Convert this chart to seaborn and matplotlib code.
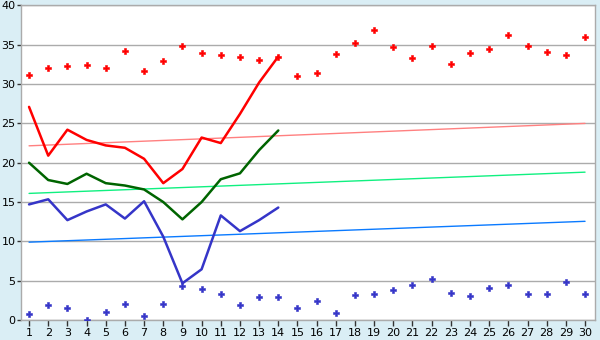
import numpy as np
import pandas as pd
import matplotlib
matplotlib.use("Agg")
import matplotlib.pyplot as plt
import seaborn as sns

days = list(range(1, 31))
line_days = list(range(1, 15))

max_points = [31.1, 32.0, 32.3, 32.4, 32.0, 34.2, 31.6, 32.9, 34.8, 33.9,
              33.7, 33.5, 33.0, 33.5, 31.0, 31.4, 33.8, 35.2, 36.9, 34.7,
              33.3, 34.8, 32.5, 33.9, 34.4, 36.3, 34.8, 34.1, 33.7, 36.0]
min_points = [0.72, 1.87, 1.49, 0.0, 0.98, 2.0, 0.47, 2.0, 4.28, 3.9,
              3.27, 1.87, 2.89, 2.89, 1.49, 2.38, 0.85, 3.14, 3.27, 3.78,
              4.41, 5.18, 3.4, 3.01, 4.03, 4.41, 3.27, 3.27, 4.8, 3.27]
red_line = [27.1, 20.9, 24.2, 22.9, 22.2, 21.9, 20.5, 17.4, 19.2, 23.2,
            22.5, 26.2, 30.2, 33.5]
green_line = [20.0, 17.8, 17.3, 18.6, 17.4, 17.1, 16.6, 15.0, 12.8, 15.0,
              17.9, 18.65, 21.6, 24.1]
blue_line = [14.7, 15.35, 12.7, 13.8, 14.7, 12.9, 15.1, 10.6, 4.67, 6.45,
             13.3, 11.3, 12.7, 14.3]
red_trend = [22.15, 25.0]
green_trend = [16.1, 18.8]
blue_trend = [9.9, 12.55]
trend_days = [1, 30]
y_ticks = [0, 5, 10, 15, 20, 25, 30, 35, 40]

sns.set_style("white")
plt.rcParams['font.family'] = ['DejaVu Sans']

fig = plt.figure(figsize=(6.0, 3.4), dpi=100)
fig.patch.set_facecolor('#DAEEF5')
ax = fig.add_axes([0.035, 0.0588, 0.9567, 0.9252])
ax.set_facecolor('white')

RED = '#FF0000'
GREEN = '#006400'
BLUE = '#3535C8'

# trend lines
sns.lineplot(x=trend_days, y=red_trend, ax=ax, color='#FF8080', linewidth=1.0)
sns.lineplot(x=trend_days, y=green_trend, ax=ax, color='#10F080', linewidth=1.0)
sns.lineplot(x=trend_days, y=blue_trend, ax=ax, color='#0A7AFF', linewidth=1.0)

# main lines
sns.lineplot(x=line_days, y=red_line, ax=ax, color=RED, linewidth=1.8)
sns.lineplot(x=line_days, y=green_line, ax=ax, color=GREEN, linewidth=1.8)
sns.lineplot(x=line_days, y=blue_line, ax=ax, color=BLUE, linewidth=1.8)

# points
sns.scatterplot(x=days, y=max_points, ax=ax, color=RED, marker='P', s=20,
                edgecolor=RED, linewidth=0.4, zorder=5)
sns.scatterplot(x=days, y=min_points, ax=ax, color=BLUE, marker='P', s=20,
                edgecolor=BLUE, linewidth=0.4, zorder=5)

ax.set_xlim(0.58, 30.52)
ax.set_ylim(0, 40)
ax.set_yticks(y_ticks)
ax.set_xticks(days)
ax.set_xticklabels([str(d) for d in days])
ax.grid(axis='y', color='#ABABAB', linewidth=1.0)
ax.set_axisbelow(True)
for s in ['left', 'bottom', 'top', 'right']:
    ax.spines[s].set_visible(True)
    ax.spines[s].set_color('#ABABAB')
    ax.spines[s].set_linewidth(1.0)
ax.tick_params(axis='x', which='both', direction='out', length=4,
               width=1, color='#333333', labelsize=8, labelcolor='black',
               pad=2, bottom=True)
ax.tick_params(axis='y', which='both', direction='out', length=3,
               width=1, color='#333333', labelsize=8, labelcolor='black',
               pad=1, left=True)
ax.set_xlabel('')
ax.set_ylabel('')

fig.savefig('out.png', dpi=100, facecolor=fig.get_facecolor())
